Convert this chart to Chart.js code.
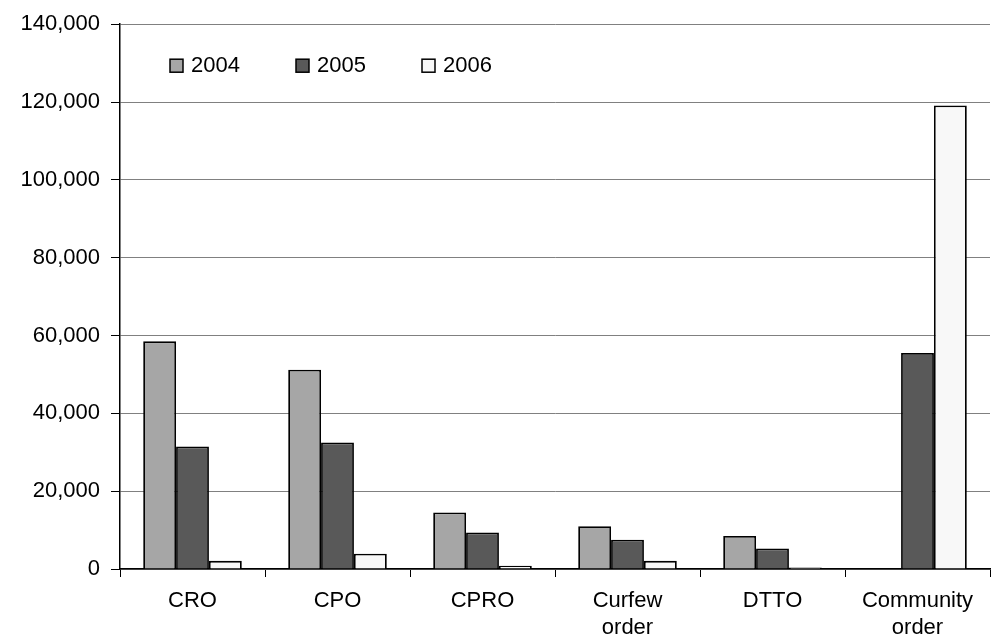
<!DOCTYPE html>
<html>
<head>
<meta charset="utf-8">
<script src="https://cdn.jsdelivr.net/npm/chart.js@4"></script>
<style>
  html, body { margin: 0; padding: 0; background: #fff; }
  #wrap { width: 992px; height: 642px; }
</style>
</head>
<body>
<div id="wrap"><canvas id="bar"></canvas></div>
<script>
const categories = ['CRO', 'CPO', 'CPRO', ['Curfew', 'order'], 'DTTO', ['Community', 'order']];
const years = ['2004', '2005', '2006'];
const v2004 = [58500, 51200, 14500, 11000, 8500, null];
const v2005 = [31500, 32500, 9400, 7500, 5300, 55500];
const v2006 = [2100, 3900, 850, 2100, 400, 119100];
const yTicks = [0, 20000, 40000, 60000, 80000, 100000, 120000, 140000];

const fills = ['#a6a6a6', '#595959', '#f8f8f8'];
const font = "'Liberation Sans', Arial, sans-serif";

// legend drawn inside the plot area, like the original
const innerLegend = {
  id: 'innerLegend',
  afterDraw(chart) {
    const c = chart.ctx;
    const area = chart.chartArea;
    const xs = [area.left + 50, area.left + 176, area.left + 302];
    const y = area.top + 41;
    c.save();
    c.font = '22px ' + font;
    c.textBaseline = 'middle';
    chart.data.datasets.forEach((ds, i) => {
      c.fillStyle = ds.backgroundColor;
      c.strokeStyle = '#000';
      c.lineWidth = 1.5;
      c.fillRect(xs[i], y - 6, 13, 13);
      c.strokeRect(xs[i], y - 6, 13, 13);
      c.fillStyle = '#000';
      c.fillText(ds.label, xs[i] + 21, y + 1);
    });
    c.restore();
  }
};

const barChart = new Chart(document.getElementById('bar'), {
  type: 'bar',
  data: {
    labels: categories,
    datasets: [v2004, v2005, v2006].map((d, i) => ({
      label: years[i],
      data: d,
      backgroundColor: fills[i],
      borderColor: '#000',
      borderWidth: 1.8,
      barPercentage: 1.0,
      categoryPercentage: 0.68,
    })),
  },
  options: {
    responsive: true,
    maintainAspectRatio: false,
    animation: false,
    layout: { padding: { top: 6, right: 2, left: 0, bottom: 0 } },
    plugins: {
      legend: { display: false },
      tooltip: { enabled: false },
    },
    scales: {
      x: {
        grid: {
          display: true,
          drawOnChartArea: false,
          offset: true,
          color: '#000',
          tickLength: 8,
        },
        border: { color: '#000', width: 1.5 },
        ticks: {
          color: '#000',
          font: { family: font, size: 22, lineHeight: 1.25 },
          padding: 10,
          maxRotation: 0,
          autoSkip: false,
        },
        afterFit(scale) { scale.height = 73; },
      },
      y: {
        min: 0,
        max: 140000,
        afterBuildTicks(scale) { scale.ticks = yTicks.map((v) => ({ value: v })); },
        grid: {
          color: '#808080',
          lineWidth: 1,
          tickLength: 9,
          tickColor: '#000',
        },
        border: { color: '#000', width: 1.5 },
        ticks: {
          color: '#000',
          font: { family: font, size: 22 },
          padding: 11,
          callback: (v) => v.toLocaleString('en-US'),
        },
        afterFit(scale) { scale.width = 120; },
      },
    },
  },
  plugins: [innerLegend],
});
</script>
</body>
</html>
